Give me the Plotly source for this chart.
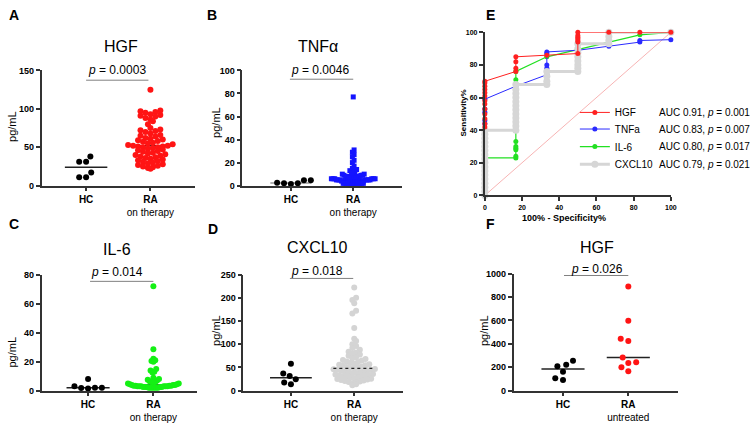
import numpy as np
import plotly.graph_objects as go

W, H = 756, 426
FONT = "Liberation Sans"

# ---------------- data ----------------
categories = ["HC", "RA"]
ra_labels = ["on therapy", "on therapy", "on therapy", "on therapy", "untreated"]

hgf_hc = [38, 31, 31, 17, 11, 11]
hgf_ra = [125,
          98, 97, 96, 95, 93, 92, 91, 90, 88, 86, 84, 80,
          75, 73, 72, 71, 70, 68, 66, 65, 64, 62, 61, 60,
          59, 58, 57, 56, 55, 54, 53, 52, 52, 51, 51, 50, 50, 49, 48, 47, 46, 45,
          44, 43, 42, 41, 40, 39, 38, 37, 36, 35, 34, 33, 32, 31, 30,
          29, 28, 27, 26, 25, 24, 23, 22]

tnf_hc = [2, 4.8, 2, 4.8, 1.5, 2.5]
tnf_ra = [77, 31, 29, 27, 25, 22, 20, 17, 15, 14, 13, 12, 11, 11, 10, 10, 9, 9, 9,
          8, 8, 8, 8, 7, 7, 7, 7, 7, 6, 6, 6, 6, 6, 6, 5, 5, 5, 5, 5, 5, 5,
          4, 4, 4, 4, 4, 4, 4, 3, 3, 3, 3, 3, 3, 3, 2, 2, 2, 2, 2, 2,
          1, 1, 1, 1, 1, 0.5, 0.5]

il6_hc = [2, 3, 8, 1.5, 2, 1.8]
il6_ra = [72, 28.5, 22, 21, 20.5, 20, 15, 14, 13, 12.5, 9, 8, 7.5, 7, 6.5, 6, 6,
          5.5, 5, 5, 4.5, 4.5, 4, 4, 4, 3.5, 3.5, 3.5, 3.5,
          3, 3, 3, 3, 3, 3, 2.5, 2.5, 2.5, 2.5, 2.5, 2, 2, 2, 2, 2, 2]

cxcl_hc = [58, 37, 31.5, 24.5, 14, 17.5]
cxcl_ra = [222, 200, 195, 188, 172, 166, 135, 112, 107, 100, 96, 92, 88, 84, 82, 80,
           78, 75, 72, 70, 68, 66, 65, 63, 62, 60, 58, 57, 56, 55, 54, 52, 51, 50,
           49, 48, 47, 46, 45, 45, 44, 43, 42, 41, 40, 39, 38, 37, 36, 35, 34, 33,
           32, 31, 30, 30, 29, 28, 27, 26, 25, 24, 23, 22, 21, 20, 19, 18, 16, 14, 12]

hgfu_hc = [256, 222, 208, 161, 92, 106]
hgfu_ra = [889, 597, 444, 425, 283, 236, 242, 200, 167]

titles = ["HGF", "TNFα", "IL-6", "CXCL10", "HGF"]
p_texts = ["0.0003", "0.0046", "0.014", "0.018", "0.026"]

# ROC curves (x = 100% - Specificity%, y = Sensitivity%)
roc_names = ["HGF", "TNFa", "IL-6", "CXCL10"]
roc_auc = ["AUC 0.91, <i>p</i> = 0.001", "AUC 0.83, <i>p</i> = 0.007",
           "AUC 0.80, <i>p</i> = 0.017", "AUC 0.79, <i>p</i> = 0.021"]
roc_hgf_x = [0, 0, 0, 0, 0, 0, 0, 0, 0, 0, 0, 0, 0,
             16.67, 16.67, 16.67, 16.67, 33.33,
             50, 50, 50, 50, 50, 50, 50, 66.67, 83.33, 100]
roc_hgf_y = [42, 44, 47, 50, 53, 56, 58, 61, 63, 65, 67, 69, 70,
             76, 78, 82, 85, 86,
             87, 94, 95, 96, 97, 98, 100, 100, 100, 100]
roc_tnf_x = [0, 0, 0, 0, 0, 16.67, 33.33, 33.33, 33.33, 33.33, 33.33,
             50, 66.67, 83.33, 83.33, 100]
roc_tnf_y = [44, 46, 51, 53, 59, 67, 74, 78, 80, 87, 88,
             89, 91.5, 94, 95, 95.5]
roc_il6_x = [0, 16.67, 16.67, 16.67, 16.67, 16.67, 16.67, 16.67, 16.67, 16.67, 16.67,
             33.33, 50, 66.67, 83.33, 100]
roc_il6_y = [23, 23, 24, 28, 29, 30, 33, 45, 60, 71, 76,
             85, 89.5, 94, 98.5, 100]
roc_cxcl_x = [0] * 17 + [16.67] * 12 + [33.33] * 4 + [50] * 8 + [66.67] * 4 + [100]
roc_cxcl_y = [0, 2.5, 5, 7.5, 10, 12.5, 15, 17.5, 20, 22.5, 25, 27.5, 30, 32.5, 35, 37.5, 40,
              40, 42.5, 45, 47.5, 50, 52.5, 55, 57.5, 60, 62.5, 65, 68,
              68, 70, 73, 76,
              76, 78, 80, 82.5, 85, 87.5, 90, 93,
              93, 95, 97.5, 100,
              100]
diag = [0, 100]

# ---------------- helpers ----------------
def px_x(p):
    return p / W


def px_y(p):
    return 1 - p / H


def swarm_offsets(values, ppu_y, diam):
    """Beeswarm: each point nearest to centre without overlapping (pixel offsets)."""
    vals = np.asarray(values, float)
    ypx = vals * ppu_y
    order = np.argsort(ypx, kind="stable")
    placed = []
    off = np.zeros(len(vals))
    for i in order:
        y = ypx[i]
        intervals = []
        for (qx, qy) in placed:
            dy = abs(qy - y)
            if dy < diam:
                dx = np.sqrt(diam ** 2 - dy ** 2)
                intervals.append((qx - dx, qx + dx))
        cands = [0.0] + [a for a, b in intervals] + [b for a, b in intervals]
        cands.sort(key=lambda c: (round(abs(c), 6), c))
        for c in cands:
            if all(not (a + 1e-9 < c < b - 1e-9) for a, b in intervals):
                off[i] = c
                break
        placed.append((off[i], y))
    return off


def row_offsets(values, ppu_y, rowh, dx):
    """GraphPad-like scatter: points binned in rows, each row centred (pixel offsets)."""
    vals = np.asarray(values, float)
    rows = np.floor(vals * ppu_y / rowh + 0.5).astype(int)
    off = np.zeros(len(vals))
    for r in np.unique(rows):
        idx = np.where(rows == r)[0]
        idx = idx[np.argsort(vals[idx], kind="stable")]
        n = len(idx)
        slots = (np.arange(n) - (n - 1) / 2) * dx
        order = np.argsort(np.abs(slots), kind="stable")
        for j, i in enumerate(idx):
            off[i] = slots[order[j]]
    return off


def text(x, y, s, size, angle=0, xanchor="center", bold=False):
    return dict(x=px_x(x), y=px_y(y), xref="paper", yref="paper",
                text=f"<b>{s}</b>" if bold else s, textangle=angle,
                xanchor=xanchor, yanchor="middle", showarrow=False,
                font=dict(family=FONT, size=size, color="black"))


fig = go.Figure()

# panel geometry in pixels: (left, right, top, bottom), category tick pixels
panels = [
    dict(box=(40, 195, 67, 185), cats=(85, 150), yr=(0, 150), dt=50,
         hc=hgf_hc, ra=hgf_ra, color="#ff1414", sym="circle", size=6, hcd=7,
         ra_arr=("row", 5, 5.0),
         title=(120, 43), p=(116, 67), pline=(85, 148, 77), ylab=(10, 124), letter=("A", 12, 10)),
    dict(box=(243, 404, 67, 185), cats=(292, 355), yr=(0, 100), dt=20,
         hc=tnf_hc, ra=tnf_ra, color="#1414ff", sym="square", size=5, hcd=7,
         ra_arr=("row", 5, 1.7),
         title=(319, 43), p=(321, 67), pline=(291, 355, 76), ylab=(216, 120), letter=("B", 212, 10)),
    dict(box=(40, 197, 276, 395), cats=(87, 153), yr=(0, 80), dt=20,
         hc=il6_hc, ra=il6_ra, color="#14f014", sym="circle", size=6, hcd=7,
         ra_arr=("row", 5, 1.9),
         title=(116, 250), p=(116, 273), pline=(89, 153, 283), ylab=(10, 355), letter=("C", 12, 224)),
    dict(box=(244, 405, 276, 395), cats=(292, 356), yr=(0, 250), dt=50,
         hc=cxcl_hc, ra=cxcl_ra, color="#d4d4d4", sym="circle", size=6, hcd=7,
         ra_arr=("row", 5, 3.8),
         title=(319, 248), p=(318, 272), pline=(291, 355, 280), ylab=(216, 333), letter=("D", 213, 229)),
    dict(box=(517, 683, 275, 395), cats=(567, 633), yr=(0, 1000), dt=200,
         hc=hgfu_hc, ra=hgfu_ra, color="#ff1414", sym="circle", size=6, hcd=8,
         ra_arr=("swarm", 8),
         title=(601, 248), p=(601, 270), pline=(568, 633, 277), ylab=(487, 333), letter=("F", 494, 224)),
]
axis_ids = [1, 2, 3, 4, 6]

annotations = []
shapes = []
AX = "#333333"

for k, (pn, aid) in enumerate(zip(panels, axis_ids)):
    x0, x1, yt, yb = pn["box"]
    c0, c1 = pn["cats"]
    ppx = c1 - c0
    xr = [1 - (c0 - x0) / ppx, 2 + (x1 - c1) / ppx]
    ppy = (yb - yt) / (pn["yr"][1] - pn["yr"][0])
    xa = "xaxis" if aid == 1 else f"xaxis{aid}"
    ya = "yaxis" if aid == 1 else f"yaxis{aid}"
    xs = "x" if aid == 1 else f"x{aid}"
    ys = "y" if aid == 1 else f"y{aid}"
    fig.update_layout(**{
        xa: dict(domain=[px_x(x0), px_x(x1)], range=xr, anchor=ys,
                 tickvals=[1, 2],
                 ticktext=[f"<b>{categories[0]}</b>", f"<b>{categories[1]}</b><br>{ra_labels[k]}"],
                 showline=True, linecolor=AX, linewidth=1.5, ticks="outside", ticklen=4,
                 tickwidth=1.5, tickcolor=AX, showgrid=False, zeroline=False,
                 tickfont=dict(family=FONT, size=10, color="black")),
        ya: dict(domain=[px_y(yb), px_y(yt)], range=list(pn["yr"]), anchor=xs,
                 dtick=pn["dt"], tick0=0,
                 showline=True, linecolor=AX, linewidth=1.5, ticks="outside", ticklen=4,
                 tickwidth=1.5, tickcolor=AX, showgrid=False, zeroline=False,
                 tickfont=dict(family=FONT, size=9, color="black", weight="bold")),
    })
    # medians
    for gi, grp in enumerate([pn["hc"], pn["ra"]]):
        med = float(np.median(grp))
        col = "#222222"
        dash = "solid"
        layer = "below"
        if gi == 1 and k == 3:
            dash = "dot"
            layer = "above"
        if gi == 0 and k == 1:
            col = "#999999"
        shapes.append(dict(type="line", xref=xs, yref=ys, x0=gi + 1 - 0.33, x1=gi + 1 + 0.33,
                           y0=med, y1=med,
                           line=dict(color=col, width=1.5 if dash == "solid" else 1.2, dash=dash),
                           layer=layer))
    # points
    hc_off = swarm_offsets(pn["hc"], ppy, pn["hcd"]) / ppx
    arr = pn["ra_arr"]
    if arr[0] == "row":
        ra_off = row_offsets(pn["ra"], ppy, arr[1], arr[2]) / ppx
    else:
        ra_off = swarm_offsets(pn["ra"], ppy, arr[1]) / ppx
    fig.add_trace(go.Scatter(x=1 + hc_off, y=pn["hc"], mode="markers", xaxis=xs, yaxis=ys,
                             marker=dict(color="black", size=6, symbol="circle"),
                             cliponaxis=False, showlegend=False))
    fig.add_trace(go.Scatter(x=2 + ra_off, y=pn["ra"], mode="markers", xaxis=xs, yaxis=ys,
                             marker=dict(color=pn["color"], size=pn["size"], symbol=pn["sym"]),
                             cliponaxis=False, showlegend=False))
    # texts
    annotations.append(text(*pn["title"], titles[k], 16))
    annotations.append(text(*pn["p"], f"<i>p</i> = {p_texts[k]}", 12))
    la, lb, ly = pn["pline"]
    shapes.append(dict(type="line", xref="paper", yref="paper", x0=px_x(la), x1=px_x(lb),
                       y0=px_y(ly), y1=px_y(ly), line=dict(color="#808080", width=1)))
    annotations.append(text(*pn["ylab"], "pg/mL", 11, angle=-90))
    L, lx, lyy = pn["letter"]
    annotations.append(text(lx, lyy, L, 14, bold=True))

# ---------------- ROC panel E ----------------
ex0, ex1, eyt, eyb = 488, 676, 28, 195
fig.update_layout(
    xaxis5=dict(domain=[px_x(ex0), px_x(ex1)], range=[0, 100], anchor="y5", dtick=20,
                showline=True, linecolor=AX, linewidth=2, ticks="outside", ticklen=4,
                tickwidth=1.5, tickcolor=AX, showgrid=False, zeroline=False,
                tickfont=dict(family=FONT, size=7, color="black", weight="bold")),
    yaxis5=dict(domain=[px_y(eyb), px_y(eyt)], range=[0, 100], anchor="x5", dtick=20,
                showline=True, linecolor=AX, linewidth=2, ticks="outside", ticklen=4,
                tickwidth=1.5, tickcolor=AX, showgrid=False, zeroline=False,
                tickfont=dict(family=FONT, size=7, color="black", weight="bold")),
)
fig.add_trace(go.Scatter(x=diag, y=diag, mode="lines", xaxis="x5", yaxis="y5",
                         line=dict(color="#f7b4b4", width=1), showlegend=False))
roc_specs = [
    (roc_il6_x, roc_il6_y, "#22e022", 5, 1.2, 3),
    (roc_tnf_x, roc_tnf_y, "#2a2aff", 5, 1.0, 2),
    (roc_cxcl_x, roc_cxcl_y, "#d6d6d6", 7, 3, 4),
    (roc_hgf_x, roc_hgf_y, "#ff2020", 5, 1.0, 1),
]
legend_rows = [110, 127, 145, 163]
legend_layout = {}
for xs_, ys_, col, msz, lw, rank in roc_specs:
    lg = "legend" if rank == 1 else f"legend{rank}"
    fig.add_trace(go.Scatter(x=xs_, y=ys_, mode="lines+markers", xaxis="x5", yaxis="y5",
                             name=roc_names[rank - 1], legend=lg,
                             line=dict(color=col, width=lw), marker=dict(color=col, size=msz),
                             cliponaxis=False))
    legend_layout[lg] = dict(x=px_x(579), y=px_y(legend_rows[rank - 1]),
                             xanchor="left", yanchor="middle",
                             bgcolor="rgba(0,0,0,0)", borderwidth=0,
                             font=dict(family=FONT, size=10, color="black"))
for i, ry in enumerate(legend_rows):
    annotations.append(text(662, ry, roc_auc[i], 10, xanchor="left"))
annotations.append(text(568, 218, "100% - Specificity%", 9, bold=True))
annotations.append(text(466, 111, "Sensitivity%", 8, angle=-90, bold=True))
annotations.append(text(494, 10, "E", 14, bold=True))

fig.update_layout(
    width=W, height=H, margin=dict(l=0, r=0, t=0, b=0),
    paper_bgcolor="white", plot_bgcolor="white",
    font=dict(family=FONT, color="black"),
    annotations=annotations, shapes=shapes,
    **legend_layout,
)

fig.write_html("out.html")
